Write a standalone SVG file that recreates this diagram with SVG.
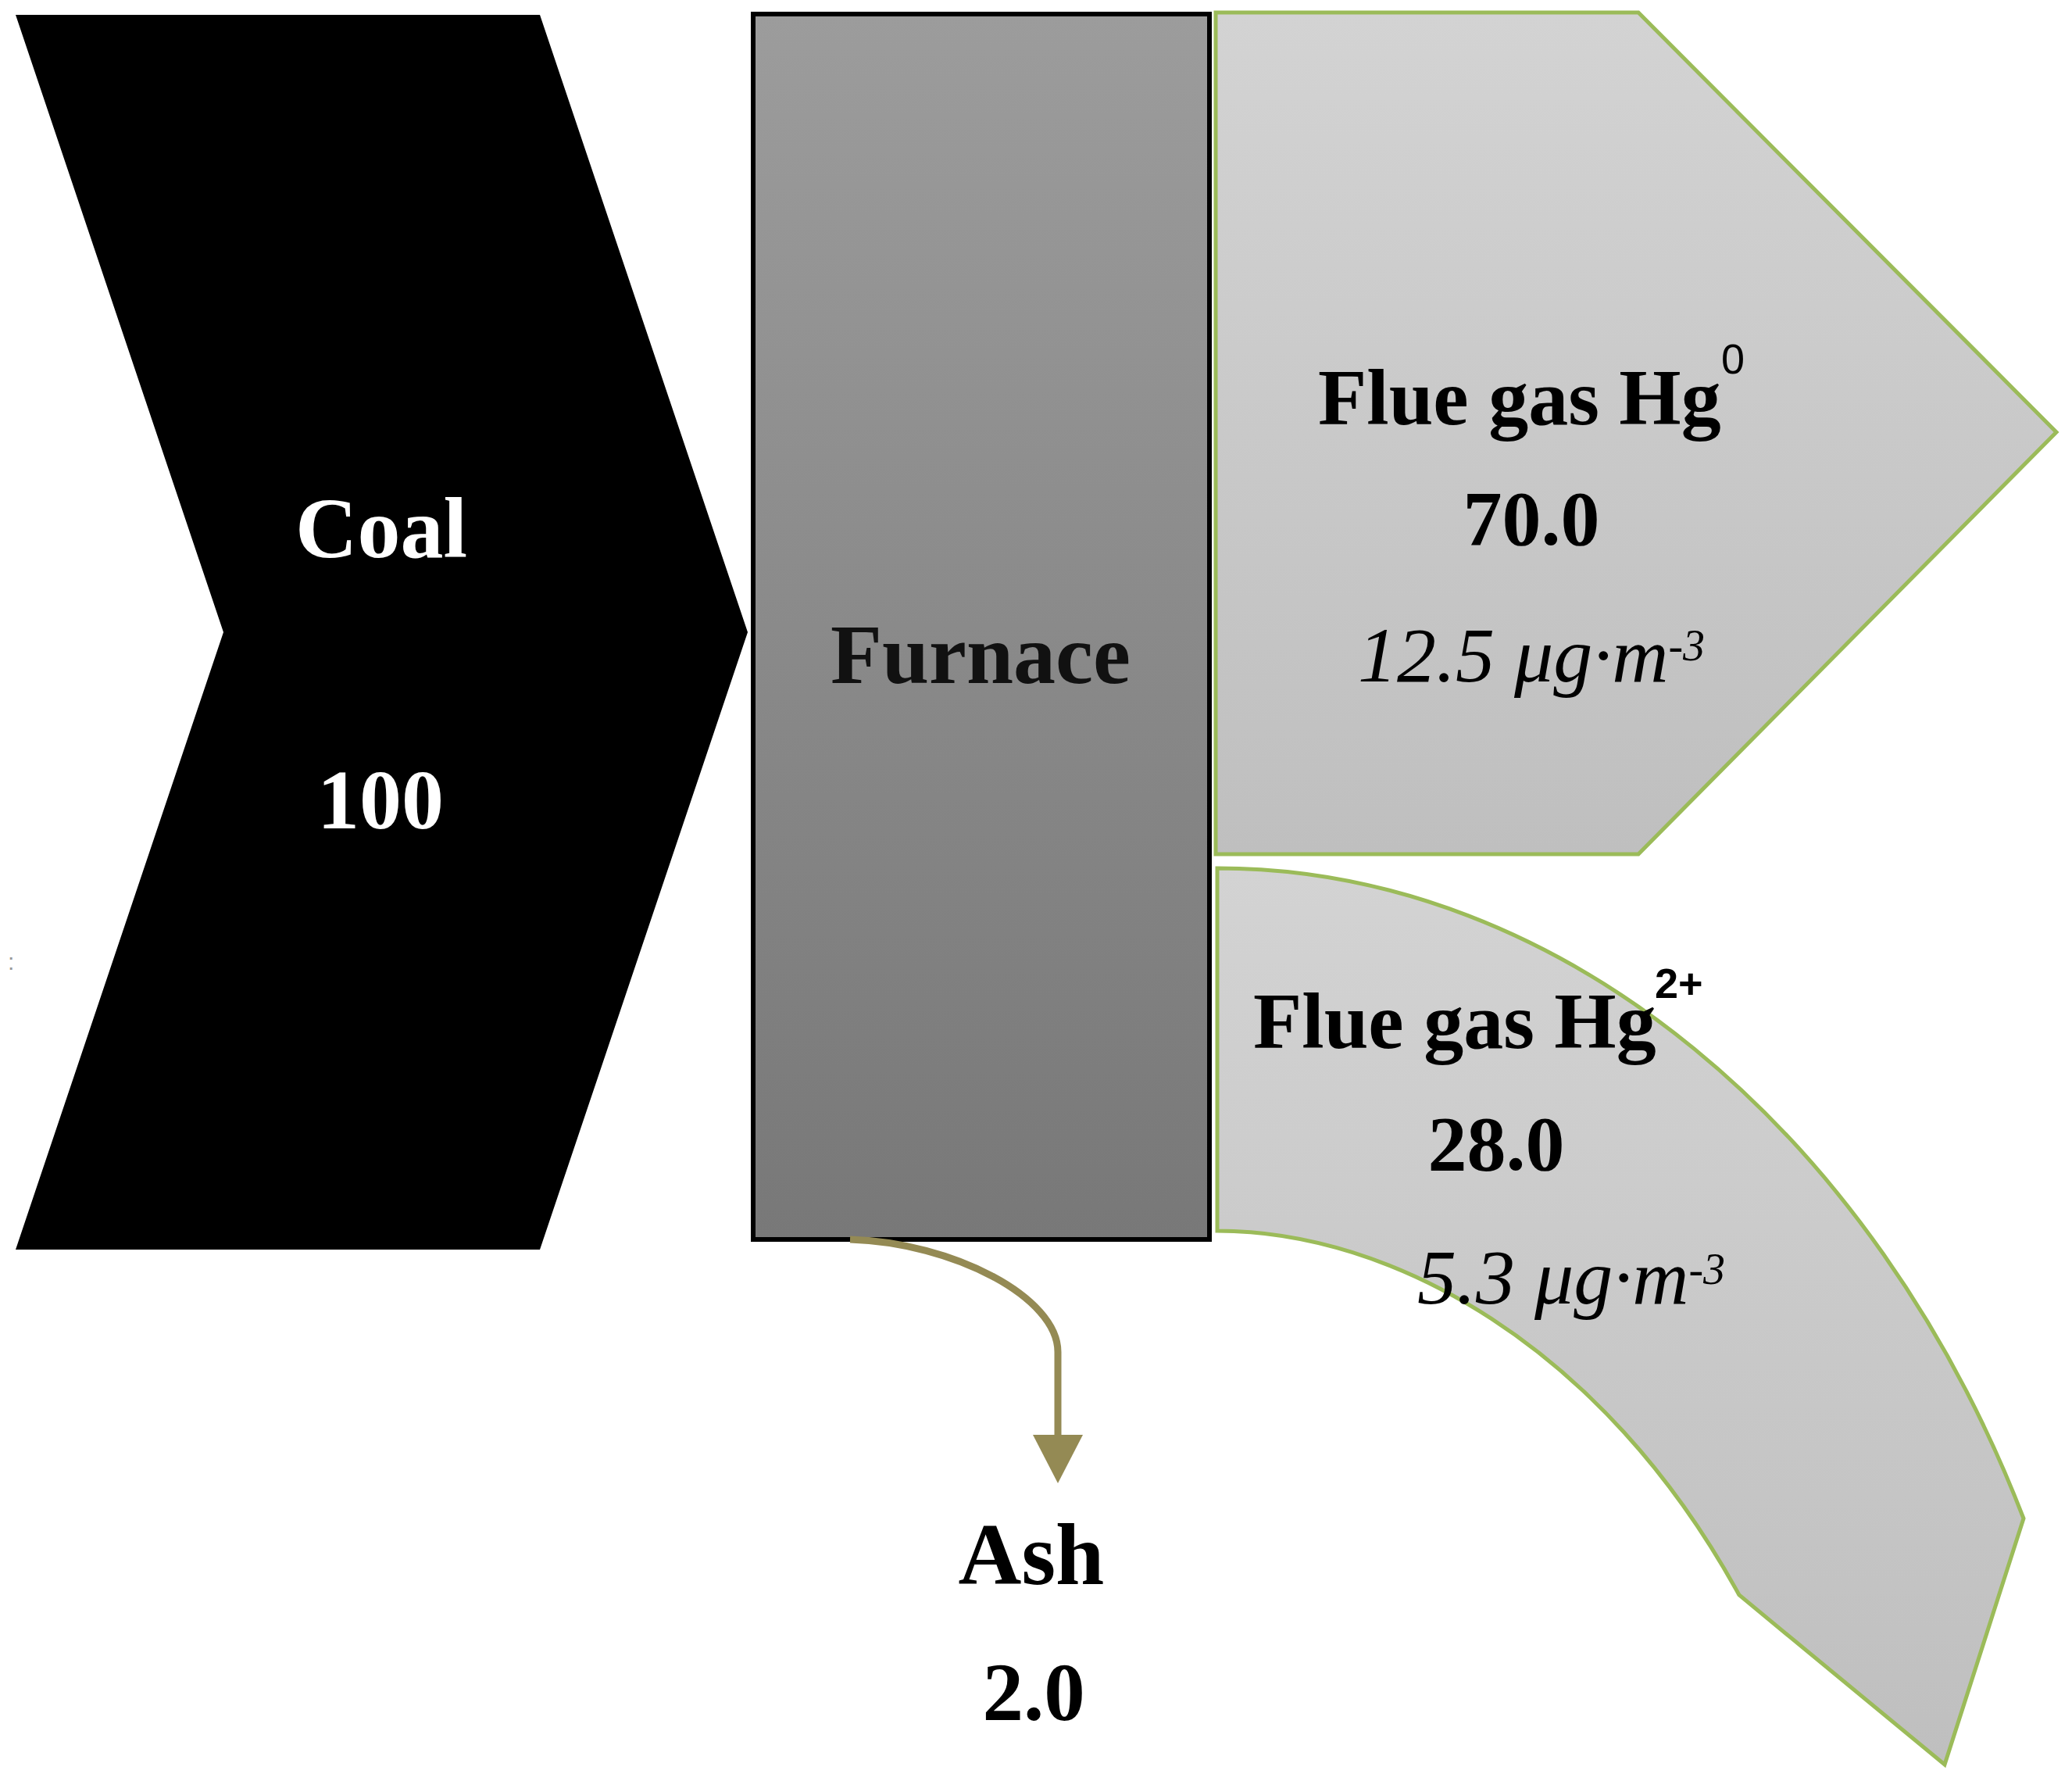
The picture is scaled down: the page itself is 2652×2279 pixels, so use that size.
<svg xmlns="http://www.w3.org/2000/svg" width="2652" height="2279" viewBox="0 0 2652 2279">
<style>
.b{font-family:"Liberation Serif","Times New Roman",serif;font-weight:bold}
.i{font-family:"Liberation Serif","Times New Roman",serif;font-style:italic}
.sup{font-family:"Liberation Sans",Arial,sans-serif}
.flow{stroke:#9bbb59;stroke-width:5;stroke-linejoin:miter}
</style>
<defs>
<linearGradient id="gFur" x1="0" y1="0" x2="0" y2="1"><stop offset="0" stop-color="#9c9c9c"/><stop offset="1" stop-color="#787878"/></linearGradient>
<linearGradient id="gGas" x1="0" y1="0" x2="0" y2="1"><stop offset="0" stop-color="#d3d3d3"/><stop offset="1" stop-color="#bfbfbf"/></linearGradient>
<marker id="ah" viewBox="0 0 62 64" refX="2" refY="32" markerWidth="62" markerHeight="64" markerUnits="userSpaceOnUse" orient="auto"><path d="M0,0 L62,32 L0,64 Z" fill="#948a54"/></marker>
</defs>
<rect width="2652" height="2279" fill="#ffffff"/>
<g id="coal">
<polygon points="20,19 691,19 957,809 691,1599 20,1599 286,809" fill="#000000"/>
<text class="b" x="488" y="713" font-size="110" fill="#ffffff" text-anchor="middle">Coal</text>
<text class="b" x="487" y="1060" font-size="108" fill="#ffffff" text-anchor="middle">100</text>
</g>
<g id="furnace">
<rect x="964" y="18" width="584" height="1568" fill="url(#gFur)" stroke="#000000" stroke-width="6"/>
<text class="b" x="1255" y="874" font-size="108" fill="#111111" text-anchor="middle">Furnace</text>
</g>
<g id="hg0">
<polygon class="flow" points="1556,16 2097,16 2632,553 2097,1093 1556,1093" fill="url(#gGas)"/>
<text class="b" x="1687" y="543" font-size="102" fill="#000000">Flue gas Hg</text>
<text class="sup" x="2203" y="478" font-size="54" fill="#000000">0</text>
<text class="b" x="1960" y="697" font-size="100" fill="#000000" text-anchor="middle">70.0</text>
<text class="i" x="1738" y="872" font-size="100" fill="#000000">12.5 μg·m<tspan font-size="56" dy="-27">-3</tspan></text>
</g>
<g id="hg2">
<path class="flow" d="M1558,1111 C2000,1111 2400,1450 2590,1943 L2489,2258 L2226,2041 C2050,1720 1780,1575 1558,1575 Z" fill="url(#gGas)"/>
<text class="b" x="1604" y="1341" font-size="102" fill="#000000">Flue gas Hg</text>
<text class="sup" x="2118" y="1277" font-size="54" font-weight="bold" fill="#000000">2+</text>
<text class="b" x="1915" y="1497" font-size="100" fill="#000000" text-anchor="middle">28.0</text>
<text class="i" x="1814" y="1668" font-size="100" fill="#000000">5.3 μg·m<tspan font-size="56" dy="-25">-3</tspan></text>
</g>
<g id="ash">
<text class="b" x="1320" y="2027" font-size="112" fill="#000000" text-anchor="middle">Ash</text>
<text class="b" x="1323" y="2201" font-size="105" fill="#000000" text-anchor="middle">2.0</text>
</g>
<g id="connectors">
<path d="M1088,1586 C1220,1590 1354,1660 1354,1730 L1354,1838" fill="none" stroke="#948a54" stroke-width="9" marker-end="url(#ah)"/>
</g>
<text class="sup" x="10" y="1241" font-size="30" fill="#999999">:</text>
</svg>
